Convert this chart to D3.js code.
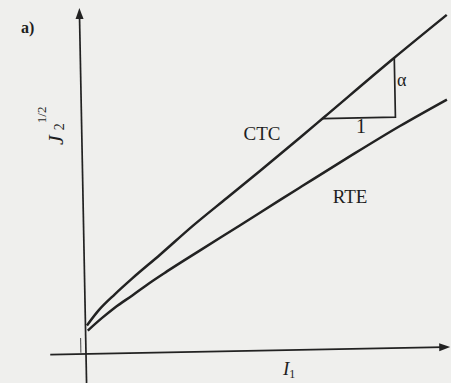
<!DOCTYPE html>
<html>
<head>
<meta charset="utf-8">
<script src="https://cdn.jsdelivr.net/npm/d3@7"></script>
<style>
  html, body { margin: 0; padding: 0; background: #efefed; }
  svg { display: block; }
</style>
</head>
<body>
<script>
// J2^(1/2) versus I1 for the two yield criteria (arbitrary units)
const ctcX = [0.02, 0.19, 0.41, 0.65, 1.04, 1.50, 1.97, 2.43, 2.99, 3.31, 4.28, 5.03];
const ctcY = [0.39, 0.60, 0.81, 1.02, 1.34, 1.73, 2.10, 2.46, 2.91, 3.17, 3.96, 4.55];

const rteX = [0.03, 0.23, 0.41, 0.65, 0.88, 1.13, 1.59, 2.14, 2.70, 3.00, 3.67, 4.36, 5.01];
const rteY = [0.32, 0.49, 0.63, 0.79, 0.95, 1.11, 1.39, 1.72, 2.06, 2.24, 2.64, 3.04, 3.39];

// slope triangle on the CTC line: unit run starting at this I1
const slopeStart = 3.30;
const slopeRun = 1;

const seriesLabels = ["CTC", "RTE"];
const panelLabel = "a)";

const W = 451, H = 383;
const ink = "#222";
const serif = "'Liberation Serif', 'DejaVu Serif', 'Times New Roman', serif";

const svg = d3.select("body").append("svg")
  .attr("width", W).attr("height", H);

svg.append("rect").attr("width", W).attr("height", H).attr("fill", "#efefed");

// plot frame: origin of the axes, slightly tilted as printed
const plot = svg.append("g").attr("transform", "translate(86,354) rotate(-1.1)");

const x = d3.scaleLinear().domain([0, 5]).range([0, 365]);
const y = d3.scaleLinear().domain([0, 5]).range([0, -365]);

// axes
plot.append("line")
  .attr("x1", x(-0.49)).attr("y1", y(0))
  .attr("x2", x(4.9)).attr("y2", y(0))
  .attr("stroke", ink).attr("stroke-width", 1.7);
plot.append("line")
  .attr("x1", x(0)).attr("y1", y(-0.4))
  .attr("x2", x(0)).attr("y2", y(4.62))
  .attr("stroke", ink).attr("stroke-width", 1.7);

// arrowheads
const xt = x(4.99), yt = y(4.74);
plot.append("path")
  .attr("d", `M${xt},0 L${xt - 11},-4 L${xt - 11},4 Z`)
  .attr("fill", ink);
plot.append("path")
  .attr("d", `M0,${yt} L-4,${yt + 11} L4,${yt + 11} Z`)
  .attr("fill", ink);

// small mark near the intercept
plot.append("line")
  .attr("x1", x(-0.07)).attr("y1", y(0.02))
  .attr("x2", x(-0.07)).attr("y2", y(0.22))
  .attr("stroke", "#555").attr("stroke-width", 1.1);

const line = d3.line()
  .x(d => x(d[0]))
  .y(d => y(d[1]))
  .curve(d3.curveMonotoneX);

const ctc = d3.zip(ctcX, ctcY);
const rte = d3.zip(rteX, rteY);

[ctc, rte].forEach(s => {
  plot.append("path")
    .datum(s)
    .attr("d", line)
    .attr("fill", "none")
    .attr("stroke", ink)
    .attr("stroke-width", 2.5)
    .attr("stroke-linejoin", "round");
});

// linear lookup along the CTC data
function ctcAt(v) {
  const i = Math.max(1, Math.min(ctcX.length - 1, d3.bisectLeft(ctcX, v)));
  const t = (v - ctcX[i - 1]) / (ctcX[i] - ctcX[i - 1]);
  return ctcY[i - 1] + t * (ctcY[i] - ctcY[i - 1]);
}

const y0 = ctcAt(slopeStart);
const y1 = ctcAt(slopeStart + slopeRun);
plot.append("path")
  .attr("d", `M${x(slopeStart)},${y(y0)} L${x(slopeStart + slopeRun)},${y(y0)} L${x(slopeStart + slopeRun)},${y(y1)}`)
  .attr("fill", "none")
  .attr("stroke", ink)
  .attr("stroke-width", 1.7);

// text
const txt = svg.append("g").attr("fill", "#1e1e1e").attr("font-family", serif);

txt.append("text")
  .attr("x", 21).attr("y", 33)
  .attr("font-size", 16).attr("font-weight", "bold")
  .text(panelLabel);

txt.append("text")
  .attr("x", 262).attr("y", 140)
  .attr("text-anchor", "middle").attr("font-size", 19)
  .text(seriesLabels[0]);

txt.append("text")
  .attr("x", 350).attr("y", 203)
  .attr("text-anchor", "middle").attr("font-size", 19)
  .text(seriesLabels[1]);

txt.append("text")
  .attr("x", 397).attr("y", 86)
  .attr("font-size", 18)
  .text("α");

txt.append("text")
  .attr("x", 361).attr("y", 133)
  .attr("text-anchor", "middle").attr("font-size", 20)
  .text("1");

// y-axis label J2^(1/2)
const yl = txt.append("text")
  .attr("transform", "translate(63,145) rotate(-90)")
  .attr("font-size", 22);
yl.append("tspan").attr("font-style", "italic").text("J");
yl.append("tspan").attr("font-size", 14).attr("dx", 5).attr("dy", 1).text("2");
yl.append("tspan").attr("font-size", 13).attr("dx", 0).attr("dy", -18).text("1/2");

// x-axis label I1
const xl = txt.append("text")
  .attr("x", 283).attr("y", 375)
  .attr("font-size", 19);
xl.append("tspan").attr("font-style", "italic").text("I");
xl.append("tspan").attr("font-size", 12).attr("dy", 3).text("1");
</script>
</body>
</html>
